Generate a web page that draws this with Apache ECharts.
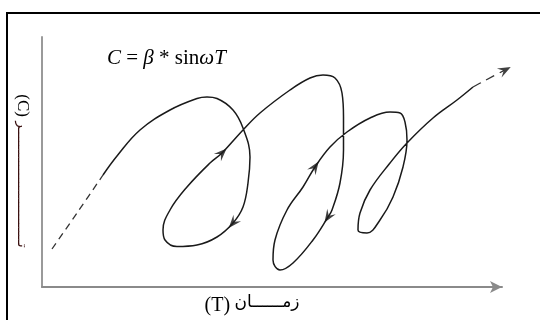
<!DOCTYPE html>
<html><head><meta charset="utf-8">
<script src="https://cdn.jsdelivr.net/npm/echarts@6/dist/echarts.min.js"></script>
<style>html,body{margin:0;padding:0;background:#fff}#c{width:540px;height:320px}</style>
</head><body><div id="c"></div>
<script>
// dashed lead-in
const startX = [2, 7, 12.2];
const startY = [15.2, 29.6, 44.8];
// solid looping curve
const curveX = [12.2,15,19.6,25.6,31,33,35,38.2,40.2,41.6,41.2,40.2,38.2,35,31,27,24.6,24.2,25.6,29,33.6,36,40.2,43.6,49.6,53.6,56.2,58.6,60,60.3,60.3,59.6,58,57.2,54.2,50.2,47.6,46.2,46.6,49,52.2,54.6,57.6,61,65.6,69.6,71.6,72.6,73,72.2,70.2,67.6,65,63.2,63.6,65.6,69.6,73,78.2,83,86.2];
const curveY = [44.8,52.4,62.8,70.8,75.4,76,75.4,70.8,63.6,52,41.6,32,25.6,20,16.8,16.2,18.8,22.8,30.8,40,49.6,53.6,62.8,69.6,78.8,83.6,84.8,83.6,77.6,68,54.8,41.6,30.8,28,18.8,9.6,6.8,10.8,18.8,30.8,40,48,56,62,67.6,70,69.6,66,58.8,48,36,26.8,21.6,22.8,29.6,38.8,49.6,57.6,67.6,74.8,80];
// dashed continuation
const endX = [86.2, 88.6, 92.6];
const endY = [80, 82.6, 86.8];
// curve points carrying a direction arrow
const arrowIndex = [12, 21, 33, 41];

const xLabelLatin = '(T)';
const xLabelArabic = 'زمــــــان';
const yLabelLatin = '(C)';
const yLabelArabic = 'تــــــــــــــــــــــــــــر';

const chart = echarts.init(document.getElementById('c'), null, {renderer: 'canvas'});
const arrowPath = 'path://M5,0 L10,13 L5,8 L0,13 Z';

function zip(xs, ys) { return xs.map((x, i) => [x, ys[i]]); }

function buildArrows(rotFn) {
  const pts = arrowIndex.map(i => ({
    value: [curveX[i], curveY[i]],
    symbolRotate: rotFn ? rotFn([curveX[i-1], curveY[i-1]], [curveX[i+1], curveY[i+1]]) : 0
  }));
  const n = endX.length;
  pts.push({
    value: [endX[n-1], endY[n-1]],
    symbolRotate: rotFn ? rotFn([endX[n-2], endY[n-2]], [endX[n-1], endY[n-1]]) : 0
  });
  return pts;
}

const option = {
  animation: false,
  backgroundColor: '#fff',
  grid: {left: 42, top: 37, width: 460, height: 250},
  xAxis: {
    type: 'value', min: 0, max: 92,
    axisLine: {show: true, symbol: ['none', 'arrow'], symbolSize: [9, 12], lineStyle: {color: '#8a8a8a', width: 2}},
    axisTick: {show: false}, axisLabel: {show: false}, splitLine: {show: false}
  },
  yAxis: {
    type: 'value', min: 0, max: 100,
    axisLine: {show: true, lineStyle: {color: '#9a9a9a', width: 2}},
    axisTick: {show: false}, axisLabel: {show: false}, splitLine: {show: false}
  },
  graphic: [
    {type: 'rect', shape: {x: 7, y: 13, width: 700, height: 500}, style: {fill: 'none', stroke: '#000', lineWidth: 2}, silent: true},
    {
      type: 'text', x: 107, y: 58,
      style: {
        text: '{i|C} = {i|β} * sin{i|ωT}',
        font: '21px "Liberation Serif"', fill: '#000', textVerticalAlign: 'middle',
        rich: {i: {font: 'italic 21px "Liberation Serif"', fill: '#000'}}
      }
    },
    {
      type: 'text', x: 252, y: 306,
      style: {
        text: '{l|' + xLabelLatin + '} {a|' + xLabelArabic + '}',
        textAlign: 'center', textVerticalAlign: 'middle',
        font: '18px "Liberation Serif"', fill: '#000',
        rich: {l: {font: '20px "Liberation Serif"', fill: '#000'}, a: {font: '17px "DejaVu Sans"', fill: '#000', padding: [0,0,7,0]}}
      }
    },
    {
      type: 'text', x: 22, y: 171, rotation: -Math.PI / 2,
      style: {
        text: '{l|' + yLabelLatin + '} {a|' + yLabelArabic + '}',
        textAlign: 'center', textVerticalAlign: 'middle',
        font: '17px "Liberation Serif"', fill: '#000',
        rich: {l: {font: '17px "Liberation Serif"', fill: '#000'}, a: {font: '14px "DejaVu Sans"', fill: '#3a1010'}}
      }
    }
  ],
  series: [
    {type: 'line', data: zip(startX, startY), symbol: 'none', smooth: 0.3,
     lineStyle: {color: '#333', width: 1.3, type: [7, 5]}},
    {type: 'line', data: zip(curveX, curveY), symbol: 'none', smooth: 0.4,
     lineStyle: {color: '#1a1a1a', width: 1.5}},
    {type: 'line', data: zip(endX, endY), symbol: 'none', smooth: 0.3, clip: false,
     lineStyle: {color: '#333', width: 1.3, type: [9, 6]}},
    {type: 'scatter', data: buildArrows(null), symbol: arrowPath, symbolSize: [10, 13], clip: false,
     itemStyle: {color: '#111'}}
  ]
};
chart.setOption(option);

function rotOf(a, b) {
  const pa = chart.convertToPixel({gridIndex: 0}, a);
  const pb = chart.convertToPixel({gridIndex: 0}, b);
  return Math.atan2(-(pb[1] - pa[1]), pb[0] - pa[0]) * 180 / Math.PI - 90;
}
chart.setOption({series: [{}, {}, {}, {data: buildArrows(rotOf)}]});
</script></body></html>
